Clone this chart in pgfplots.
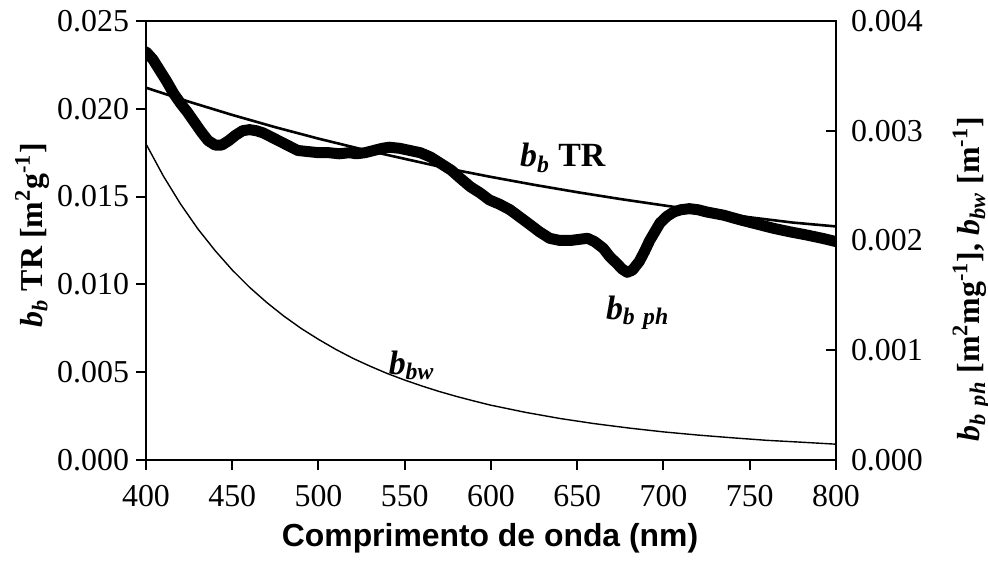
\documentclass[border=0pt]{standalone}
\usepackage{fontspec}
\setmainfont{Liberation Serif}
\newfontfamily\arial{Liberation Sans}
\usepackage{pgfplots}
\pgfplotsset{compat=1.18}
\newcommand{\bi}[1]{\textbf{\textit{#1}}}
\newcommand{\tickfont}{\fontsize{16}{19}\selectfont}
\newcommand{\labfont}{\fontsize{17}{20}\selectfont}
\newcommand{\ylabfont}{\fontsize{16}{19}\selectfont}

\pgfplotstableread{
lam bbph
400 0.00372
404 0.00365
408 0.00355
412 0.00345
416 0.00334
420 0.00325
424 0.00317
428 0.00308
432 0.00299
436 0.00291
440 0.00287
444 0.00287
448 0.00291
452 0.00296
456 0.00300
460 0.00301
464 0.00300
468 0.00298
473 0.00294
478 0.00290
483 0.00286
488 0.00282
494 0.00281
500 0.00280
506 0.00280
512 0.00279
518 0.00280
522 0.00279
527 0.00280
532 0.00282
537 0.00284
541 0.00285
547 0.00284
553 0.00282
559 0.00280
565 0.00276
571 0.00270
577 0.00264
582 0.00257
588 0.00249
594 0.00243
599 0.00237
605 0.00233
611 0.00228
617 0.00221
623 0.00214
628 0.00208
634 0.00202
640 0.00200
646 0.00200
651 0.00201
656 0.00202
660 0.00199
665 0.00193
669 0.00185
673 0.00179
676 0.00174
679 0.00171
682 0.00173
686 0.00181
689 0.00190
692 0.00200
695 0.00208
698 0.00216
702 0.00222
706 0.00226
710 0.00228
715 0.00229
720 0.00228
725 0.00226
735 0.00223
744 0.00219
754 0.00215
764 0.00211
773 0.00208
783 0.00205
792 0.00202
800 0.00199
}\phyto

\pgfplotstableread{
lam bbw
400 0.002880
410 0.002589
420 0.002333
430 0.002107
440 0.001909
450 0.001731
460 0.001574
470 0.001435
480 0.001310
490 0.001198
500 0.001099
510 0.001008
520 0.000926
530 0.000854
540 0.000787
550 0.000728
560 0.000674
570 0.000624
580 0.000579
590 0.000538
600 0.000499
620 0.000434
640 0.000378
660 0.000331
680 0.000291
700 0.000256
720 0.000227
740 0.000202
760 0.000179
780 0.000162
800 0.000144
}\water

\pgfplotstableread{
lam bbtr
400 0.02120
425 0.02040
450 0.01965
475 0.01895
500 0.01830
525 0.01770
550 0.01715
575 0.01660
600 0.01612
625 0.01567
650 0.01525
675 0.01486
700 0.01450
725 0.01415
750 0.01382
775 0.01352
800 0.01330
}\tr

\begin{document}
\begin{tikzpicture}
\pgfplotsset{
  common/.style={
    scale only axis, width=345bp, height=219.5bp,
    xmin=400, xmax=800,
    axis line style={line width=1bp, black},
    major tick length=5bp,
    tick style={line width=1bp, black},
    /pgf/number format/assume math mode=true,
    tick label style={font=\tickfont},
    scaled y ticks=false,
    yticklabel style={/pgf/number format/fixed, /pgf/number format/fixed zerofill, /pgf/number format/precision=3},
  }
}
\begin{axis}[common,
  name=ax,
  ymin=0, ymax=0.025,
  xtick={400,450,...,800},
  ytick={0,0.005,...,0.025},
  xtick pos=bottom, ytick pos=left,
  tick align=outside,
  xticklabel style={yshift=-4bp},
  xlabel={\arial\bfseries Comprimento de onda (nm)},
  xlabel style={font=\fontsize{16}{19}\selectfont, at={(axis description cs:0.4986,-0.178)}, anchor=center},
  ylabel={\bi{b}\textsubscript{\bi{b}} \textbf{TR [m\textsuperscript{2}g\textsuperscript{-1}]}},
  ylabel style={font=\ylabfont, at={(axis description cs:-0.165,0.512)}, anchor=center, rotate=0},
]
\addplot[black, line width=1.3bp] table[x=lam, y=bbtr] {\tr};
\node[font=\labfont] at (axis cs:641.7,0.0172) {\bi{b}\textsubscript{\bi{b}} \textbf{TR}};
\node[font=\labfont] at (axis cs:685,0.00837) {\bi{b}\textsubscript{\bi{b}\hspace{0.35em}\bi{ph}}};
\node[font=\labfont] at (axis cs:554,0.0054) {\bi{b}\textsubscript{\bi{bw}}};
\coordinate (bl) at (rel axis cs:-0.2116,-0.2301);
\coordinate (tr) at (rel axis cs:1.2203,1.0478);
\end{axis}
\begin{axis}[common,
  ymin=0, ymax=0.004,
  axis x line=none,
  axis y line*=right,
  ytick={0,0.001,...,0.004},
  tick align=inside,
  yticklabel style={xshift=4bp},
  ylabel={\bi{b}\textsubscript{\bi{b}\hspace{0.35em}\bi{ph}} \textbf{[m\textsuperscript{2}mg\textsuperscript{-1}],} \bi{b}\textsubscript{\bi{bw}} \textbf{[m\textsuperscript{-1}]}},
  ylabel style={font=\ylabfont, at={(axis description cs:1.196,0.412)}, anchor=center, rotate=0},
]
\addplot[black, line width=0.7bp] table[x=lam, y=bbw] {\water};
\addplot[black, line width=5.5bp, line join=round, line cap=round] table[x=lam, y=bbph] {\phyto};
\end{axis}
\pgfresetboundingbox
\path (bl) rectangle (tr);
\end{tikzpicture}
\end{document}
